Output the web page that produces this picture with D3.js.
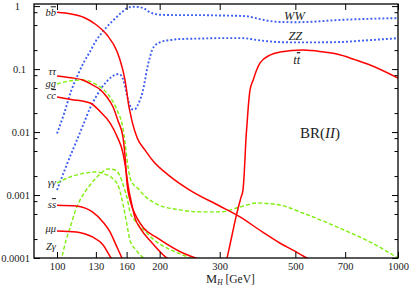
<!DOCTYPE html>
<html>
<head>
<meta charset="utf-8">
<script src="https://cdn.jsdelivr.net/npm/d3@7/dist/d3.min.js"></script>
<style>
  body { margin: 0; background: #fff; }
  text { font-family: "Liberation Serif", "DejaVu Serif", serif; }
</style>
</head>
<body>
<svg width="415" height="288"></svg>
<script>
// branching ratios: [M_H in GeV, BR]
const bb = [[100, .80], [110, .75], [120, .66], [130, .51], [140, .35], [150, .19], [155, .11], [158, .07], [160, .046],
    [162, .028], [164, .020], [167, .013], [172, .008], [181, .0052], [191, .0035], [214, .0020], [245, .0012],
    [300, 6.7e-4], [344, 4.5e-4], [400, 2.6e-4], [450, 1.73e-4], [500, 1.27e-4], [540, 1e-4], [570, 8.5e-5]];
const tautau = [[100, .078], [110, .073], [119, .067], [127, .056], [134, .047], [140, .036], [146, .025], [151, .015],
    [156, .0085], [158.5, .0038], [160.5, .0015], [163.7, 8.3e-4], [171.7, 4.3e-4], [179.4, 3.0e-4], [196.4, 2.1e-4],
    [229, 1.27e-4], [255, 1e-4], [270, 9e-5]];
const cc = [[100, .036], [110, .033], [125, .029], [134, .021], [143, .014], [150, .0085], [156, .0047], [159.4, .0024],
    [161.5, .00144], [165.9, 6.9e-4], [169.4, 4.3e-4], [175.2, 3.0e-4], [190, 1.73e-4], [210, 1e-4], [220, 8.8e-5]];
const ss = [[100, 6.9e-4], [114, 6.7e-4], [121, 6.2e-4], [127, 5.4e-4], [136.5, 3.7e-4], [143, 2.6e-4], [149, 1.6e-4],
    [155, 1e-4], [157, 8.5e-5]];
const mumu = [[100, 2.68e-4], [114, 2.59e-4], [121, 2.41e-4], [127, 2.16e-4], [136.5, 1.61e-4], [144, 1e-4], [147, 8.5e-5]];
const tt = [[314, 9e-5], [326, 2.3e-4], [337, 5.2e-4], [346, 9e-4], [351, 1.2e-3], [354, 2.2e-3], [356, 4e-3], [358, 7.5e-3],
    [361, .014], [364, .026], [368, .046], [376, .067], [385, .097], [394, .125], [421, .167], [451, .186], [527, .2],
    [600, .188], [662, .173], [750, .14], [828, .116], [1000, .072]];
const gg = [[100, .058], [109, .065], [119, .067], [131, .056], [143, .036], [150, .0223], [156, .0116], [158.5, .0065],
    [160.5, .0036], [163.7, .0019], [167, .0015], [172, .0013], [181, 9.6e-4], [196, 7.2e-4], [229, 5.8e-4], [265, 5.4e-4],
    [300, 5.4e-4], [344, 6.45e-4], [385, 7.46e-4], [450, 6.94e-4], [526, 5.18e-4], [663, 3.1e-4], [829, 1.79e-4], [1000, 1e-4]];
const gamgam = [[100, .00155], [109, .00193], [121, .00223], [129, .00232], [138, .00215], [146, .0018], [152, .00129],
    [157, 6.2e-4], [160.5, 3.3e-4], [163.7, 1.9e-4], [170.5, 1.34e-4], [179.4, 1e-4], [186, 9e-5]];
const zgam = [[102.7, 8.7e-5], [106.3, 1.93e-4], [109.2, 3e-4], [112.9, 5.4e-4], [116.8, 8.3e-4], [125, .00144],
    [133.7, .00215], [141, .0026], [148, .0025], [153, .002], [157, .00134], [160.5, 9e-4], [163.7, 5.4e-4], [169.4, 3.9e-4],
    [179.4, 2.8e-4], [196, 1.8e-4], [222, 1.25e-4], [245, 1e-4], [255, 9e-5]];
const ww = [[100, .0095], [105, .02], [110, .045], [115, .08], [120, .13], [125, .19], [130, .28], [135, .37], [140, .47],
    [145, .57], [150, .68], [155, .8], [160, .92], [165, .97], [170, .975], [175, .96], [180, .92], [187, .8], [195, .745],
    [200, .73], [220, .72], [257, .72], [300, .71], [340, .70], [360, .69], [380, .65], [394, .62], [420, .58], [450, .56],
    [500, .555], [560, .565], [662, .6], [800, .625], [1000, .645]];
const zz = [[100, .0012], [105, .0024], [110, .0045], [115, .008], [120, .014], [125, .024], [130, .036], [135, .05],
    [140, .064], [145, .076], [150, .083], [153, .082], [156, .07], [158, .055], [160, .04], [163, .028], [166, .023],
    [169, .023], [172, .026], [175, .032], [178, .042], [181, .065], [184, .105], [187, .15], [190, .2], [195, .245],
    [200, .265], [215, .29], [230, .3], [260, .305], [300, .31], [350, .31], [370, .3], [385, .29], [420, .275], [450, .268],
    [520, .265], [662, .268], [800, .285], [1000, .31]];

const xTicks = [100, 130, 160, 200, 300, 500, 700, 1000];
const yTicks = [1, 0.1, 0.01, 0.001, 0.0001];
const yTickLabels = ['1', '0.1', '0.01', '0.001', '0.0001'];
const yMinorSteps = [0.8, 0.5, 0.2];

const svg = d3.select('svg');
const pLeft = 34, pRight = 398, pTop = 4, pBottom = 258;

const x = d3.scaleLog().domain([85.6, 1000]).range([pLeft, pRight]);
const y = d3.scaleLog().domain([1e-4, 1.08]).range([pBottom, pTop]);

const yMinor = [];
yTicks.slice(0, 4).forEach(d => yMinorSteps.forEach(f => yMinor.push(d * f)));

svg.append('clipPath').attr('id', 'plot')
    .append('rect').attr('x', pLeft).attr('y', pTop).attr('width', pRight - pLeft).attr('height', pBottom - pTop);

const line = d3.line()
    .x(d => x(d[0]))
    .y(d => y(d[1]))
    .curve(d3.curveMonotoneX);

const styles = {
    blue: { stroke: '#3a5cf0', width: 1.9, dash: '1.9 2.1' },
    green: { stroke: '#80ee10', width: 1.4, dash: '4 2.2' },
    red: { stroke: '#ff0000', width: 1.5, dash: null }
};
const curves = [
    [ww, 'blue'], [zz, 'blue'],
    [gg, 'green'], [gamgam, 'green'], [zgam, 'green'],
    [bb, 'red'], [tautau, 'red'], [cc, 'red'], [ss, 'red'], [mumu, 'red'], [tt, 'red']
];

svg.append('g').attr('clip-path', 'url(#plot)')
    .selectAll('path')
    .data(curves)
    .join('path')
    .attr('d', d => line(d[0]))
    .attr('fill', 'none')
    .attr('stroke', d => styles[d[1]].stroke)
    .attr('stroke-width', d => styles[d[1]].width)
    .attr('stroke-dasharray', d => styles[d[1]].dash);

// axes, ticks pointing inward on all four sides
function styleAxis(g) {
    g.select('.domain').remove();
    g.selectAll('line').attr('stroke', '#000').attr('stroke-width', 1);
    g.selectAll('text').attr('font-family', '"Liberation Serif", serif').attr('font-size', 10.5).attr('fill', '#222');
}

svg.append('g').attr('transform', `translate(0,${pBottom})`)
    .call(d3.axisBottom(x).tickValues(xTicks).tickFormat(d3.format('d')).tickSize(-6).tickSizeOuter(0).tickPadding(5))
    .call(styleAxis);
svg.append('g').attr('transform', `translate(0,${pTop})`)
    .call(d3.axisTop(x).tickValues(xTicks).tickFormat('').tickSize(-6).tickSizeOuter(0))
    .call(styleAxis);
const yAxisLeft = svg.append('g').attr('transform', `translate(${pLeft},0)`)
    .call(d3.axisLeft(y).tickValues(yTicks).tickFormat((d, i) => yTickLabels[i]).tickSize(-6).tickSizeOuter(0).tickPadding(4))
    .call(styleAxis);
// the two top labels sit a little left of the others in the original
yAxisLeft.selectAll('text').attr('dx', d => d === 1 ? -10 : d === 0.1 ? -4 : 0);
svg.append('g').attr('transform', `translate(${pLeft},0)`)
    .call(d3.axisLeft(y).tickValues(yMinor).tickFormat('').tickSize(-3.5).tickSizeOuter(0))
    .call(styleAxis);
svg.append('g').attr('transform', `translate(${pRight},0)`)
    .call(d3.axisRight(y).tickValues(yTicks).tickFormat('').tickSize(-6).tickSizeOuter(0))
    .call(styleAxis);
svg.append('g').attr('transform', `translate(${pRight},0)`)
    .call(d3.axisRight(y).tickValues(yMinor).tickFormat('').tickSize(-3.5).tickSizeOuter(0))
    .call(styleAxis);

svg.append('rect')
    .attr('x', pLeft).attr('y', pTop)
    .attr('width', pRight - pLeft).attr('height', pBottom - pTop)
    .attr('fill', 'none').attr('stroke', '#000').attr('stroke-width', 1.3);

// curve names: [first letter, second letter, bar over second, M, BR]
const leftLabels = [
    ['b', 'b', true, 99.3, 0.69], ['τ', 'τ', false, 99.3, 0.0805], ['g', 'g', false, 99.3, 0.0519],
    ['c', 'c', true, 99.3, 0.0334], ['γ', 'γ', false, 99.3, 0.0014], ['s', 's', true, 99.3, 6.2e-4],
    ['μ', 'μ', false, 99.3, 2.55e-4], ['Z', 'γ', false, 99.3, 1.34e-4]
];
const rightLabels = [['W', 'W', false, 497, 0.6], ['Z', 'Z', false, 500, 0.29], ['t', 't', true, 505, 0.12]];

function drawLabels(list, anchor, size) {
    const t = svg.append('g')
        .selectAll('text')
        .data(list)
        .join('text')
        .attr('x', d => x(d[3]))
        .attr('y', d => y(d[4]))
        .attr('text-anchor', anchor)
        .attr('font-style', 'italic')
        .attr('font-size', size)
        .attr('fill', '#222');
    t.append('tspan').text(d => d[0]);
    t.append('tspan').style('text-decoration', d => d[2] ? 'overline' : 'none').text(d => d[1]);
}
drawLabels(leftLabels, 'end', 10.5);
drawLabels(rightLabels, 'middle', 12.5);

const br = svg.append('text')
    .attr('x', x(516)).attr('y', y(0.0081))
    .attr('font-size', 15).attr('fill', '#222');
br.append('tspan').text('BR(');
br.append('tspan').attr('font-style', 'italic').text('II');
br.append('tspan').text(')');

const xl = svg.append('text')
    .attr('x', 206).attr('y', 283)
    .attr('font-size', 11.5).attr('fill', '#222');
xl.append('tspan').attr('font-size', 12.5).text('M');
xl.append('tspan').attr('font-size', 7.5).attr('font-style', 'italic').attr('dy', 2).text('H');
xl.append('tspan').attr('dy', -2).text(' [GeV]');
</script>
</body>
</html>
